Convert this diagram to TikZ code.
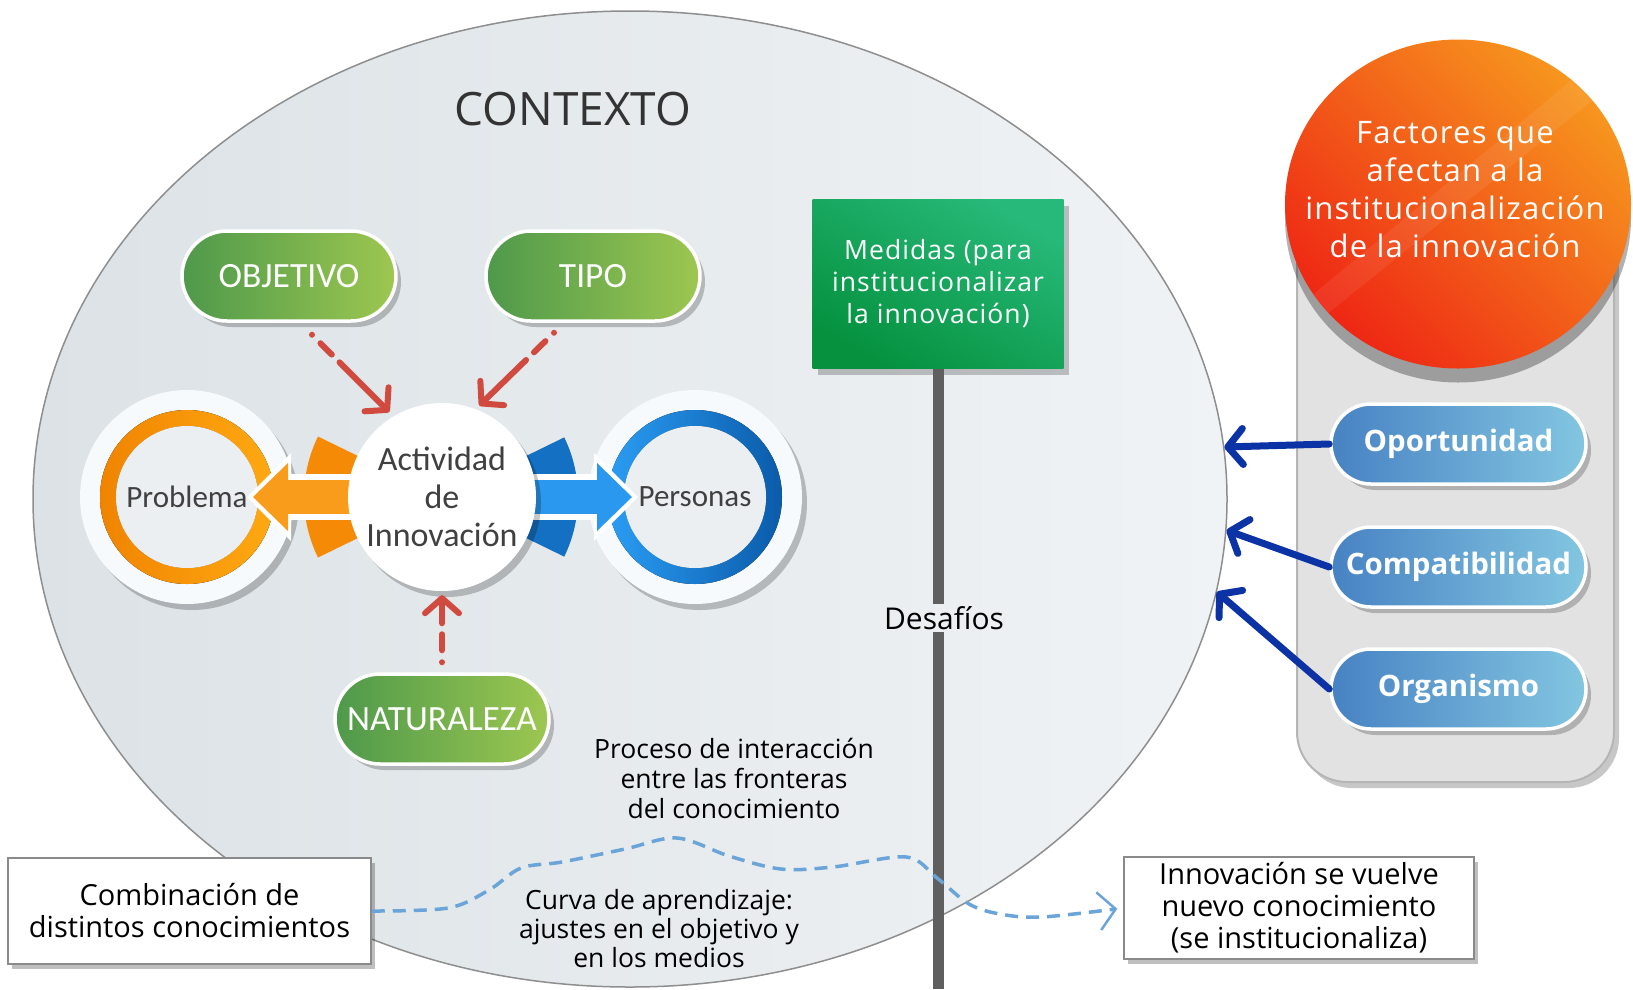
\documentclass[tikz,border=0pt]{standalone}
\usepackage{fontspec}
\setmainfont{Open Sans}
\newfontfamily\myr{Carlito}
\newfontfamily\osw[LetterSpace=4]{Open Sans}
\usetikzlibrary{shapes.geometric,shadows,arrows.meta,calc}
\definecolor{ellL}{HTML}{DCE2E6}
\definecolor{ellR}{HTML}{F0F3F5}
\definecolor{ellB}{HTML}{8E8E8E}
\definecolor{grL}{HTML}{4E994B}
\definecolor{grR}{HTML}{9DC750}
\definecolor{orA}{HTML}{F08400}
\definecolor{orB}{HTML}{FFA912}
\definecolor{orArr}{HTML}{F99B1B}
\definecolor{orArc}{HTML}{F48A06}
\definecolor{blA}{HTML}{2A9DF3}
\definecolor{blB}{HTML}{0B5BAA}
\definecolor{blArr}{HTML}{2A98EE}
\definecolor{blArc}{HTML}{1470C2}
\definecolor{redA}{HTML}{D04A3F}
\definecolor{navy}{HTML}{0B33A6}
\definecolor{pbL}{HTML}{4782C3}
\definecolor{pbR}{HTML}{83C6E1}
\definecolor{mgT}{HTML}{27B979}
\definecolor{mgB}{HTML}{05913E}
\definecolor{facT}{HTML}{F7961E}
\definecolor{facB}{HTML}{EE2714}
\definecolor{poleC}{HTML}{5F5F5F}
\definecolor{curveC}{HTML}{6AA4D8}
\definecolor{txg}{HTML}{404040}
\definecolor{txd}{HTML}{333333}
\definecolor{haloC}{HTML}{F7FAFC}
\definecolor{innerF}{HTML}{ECEFF2}
\definecolor{panelF}{HTML}{E2E2E2}
\definecolor{panelB}{HTML}{B5B5B5}
\definecolor{boxB}{HTML}{8A8A8A}
\begin{document}
\begin{tikzpicture}[x=1pt,y=-1pt,
  softshadow/.style={drop shadow={opacity=0.22, shadow xshift=5pt, shadow yshift=-6pt, fill=black}},
  gpill/.style={rounded corners=45pt, minimum width=214pt, minimum height=90pt, inner sep=0pt,
     left color=grL, right color=grR, draw=white, line width=3.5pt, text=white,
     font=\myr\fontsize{35.5}{38}\selectfont, softshadow},
  bpill/.style={rounded corners=40pt, minimum width=255pt, minimum height=80pt, inner sep=0pt,
     left color=pbL, right color=pbR, draw=white, line width=3.5pt, text=white,
     font=\bfseries\fontsize{29.5}{32}\selectfont, softshadow},
  halocirc/.style={circle, minimum size=214pt, inner sep=0pt, fill=haloC, softshadow},
  ringlabel/.style={circle, minimum size=142pt, inner sep=0pt, fill=innerF, text=txg,
     font=\myr\fontsize{31}{36}\selectfont},
  reddash/.style={draw=redA, line width=6pt, line cap=round,
     dash pattern=on 0pt off 12pt on 16pt off 11pt on 300pt,
     -{Straight Barb[length=15pt,width=34pt,line width=6pt,round]}},
  navyarr/.style={draw=navy, line width=7pt, line cap=round,
     -{Straight Barb[length=15pt,width=36pt,line width=7pt,round]}},
  tbox/.style={rectangle, draw=boxB, line width=1.5pt, fill=white, inner sep=0pt, align=center,
     font=\fontsize{29}{32}\selectfont,
     drop shadow={opacity=0.25, shadow xshift=4pt, shadow yshift=-5pt, fill=black}},
  polestyle/.style={draw=poleC, line width=11pt}
]
\useasboundingbox (0,0) rectangle (1633,989);

% context ellipse
\node[ellipse, minimum width=1194pt, minimum height=976pt, inner sep=0pt,
      left color=ellL, right color=ellR, draw=ellB, line width=1.5pt] (ctx) at (630,499) {};
\node[text=txd, font=\fontsize{46}{50}\selectfont] (ctxt) at (573,109) {CONTEXTO};

% right panel
\node[rectangle, rounded corners=50pt, minimum width=317pt, minimum height=580pt,
      fill=panelF, draw=panelB, line width=2pt, softshadow] (panel) at (1455.5,492) {};
\node[ellipse, minimum width=346pt, minimum height=329pt, inner sep=0pt,
      top color=facT, bottom color=facB, shading angle=-45,
      drop shadow={opacity=0.3, shadow xshift=0pt, shadow yshift=-14pt, fill=black}] (fac) at (1458,204) {};
\begin{scope}
  \clip (fac.center) ellipse [x radius=173pt, y radius=164.5pt];
  \fill[white, opacity=0.07] (1270,330) -- (1620,40) -- (1640,62) -- (1285,348) -- cycle;
\end{scope}
\node[text=white, align=center, font=\osw\fontsize{31}{38}\selectfont] (factxt) at (1455,190)
  {Factores que\\afectan a la\\institucionalización\\de la innovación};

\node[bpill] (opor) at (1458.5,444) {Oportunidad};
\node[bpill] (comp) at (1458.5,567) {Compatibilidad};
\node[bpill] (orgn) at (1458.5,689) {Organismo};

\draw[navyarr] (opor.west) -- (ctx.5);
\draw[navyarr] (comp.west) -- (ctx.-3);
\draw[navyarr] (orgn.west) -- (ctx.-9);

% green pills
\node[gpill] (obj) at (289,276) {OBJETIVO};
\node[gpill] (tipo) at (593,276) {TIPO};
\node[gpill] (nat) at (442,719) {NATURALEZA};

% rings
\coordinate (actc) at (442,497);
\node[halocirc] (probhalo) at (187,497) {};
\fill[even odd rule, left color=orA, right color=orB] (probhalo.center) circle[radius=87pt] circle[radius=71pt];
\node[ringlabel] (prob) at (probhalo.center) {Problema};

\node[halocirc] (pershalo) at (695,497) {};
\fill[even odd rule, left color=blA, right color=blB] (pershalo.center) circle[radius=87pt] circle[radius=71pt];
\node[ringlabel] (pers) at (pershalo.center) {Personas};

% arcs
\fill[orArc] (actc) -- ++(154:138pt) arc[start angle=154, end angle=206, radius=138pt] -- cycle;
\fill[blArc] (actc) -- ++(-26:136pt) arc[start angle=-26, end angle=26, radius=136pt] -- cycle;

% big arrows
\draw[white, line width=46pt, -{Triangle[length=44pt,width=88pt,line width=0pt]}, shorten >=60pt] (actc) -- (prob.center);
\draw[orArr, line width=34pt, -{Triangle[length=35pt,width=68pt,line width=0pt]}, shorten >=66pt] (actc) -- (prob.center);
\draw[white, line width=46pt, -{Triangle[length=44pt,width=88pt,line width=0pt]}, shorten >=57pt] (actc) -- (pers.center);
\draw[blArr, line width=34pt, -{Triangle[length=35pt,width=68pt,line width=0pt]}, shorten >=63pt] (actc) -- (pers.center);

% center circle
\node[circle, minimum size=188pt, inner sep=0pt, fill=white, softshadow, align=center, text=txg,
      font=\myr\fontsize{34}{38}\selectfont] (act) at (actc) {Actividad\\de\\Innovación};

% red dashed arrows
\draw[reddash, shorten >=6pt] ([shift={(23,12)}]obj.south) -- (act.121);
\draw[reddash, shorten >=5pt] ([shift={(-39,10)}]tipo.south) -- (act.69);
\draw[reddash, shorten >=4pt] ([shift={(0,-10)}]nat.north) -- (act.south);

% medidas and pole
\node[rectangle, minimum width=251pt, minimum height=169pt, inner sep=0pt,
      top color=mgT, bottom color=mgB, shading angle=-30, text=white, align=center,
      font=\osw\fontsize{26.5}{32}\selectfont, softshadow] (med) at (938,284)
      {Medidas (para\\institucionalizar\\la innovación)};
\node[font=\fontsize{30}{34}\selectfont, text=black, inner sep=2pt] (des) at (944,618) {Desafíos};
\coordinate (polebot) at (938,989);
\draw[polestyle] (med.south) -- (med.south |- des.north);
\draw[polestyle] (med.south |- des.south) -- (polebot);

% texts
\node[align=center, font=\fontsize{26.5}{30}\selectfont] (proc) at (734,778)
  {Proceso de interacción\\entre las fronteras\\del conocimiento};
\node[align=center, font=\fontsize{26.5}{29}\selectfont] (curv) at (659,929)
  {Curva de aprendizaje:\\ajustes en el objetivo y\\en los medios};

% boxes
\node[tbox, minimum width=363pt, minimum height=106pt] (comb) at (189.5,911)
  {Combinación de\\distintos conocimientos};
\node[tbox, minimum width=350pt, minimum height=102pt] (innv) at (1299,908)
  {Innovación se vuelve\\nuevo conocimiento\\(se institucionaliza)};

% learning curve
\draw[curveC, line width=3.5pt, dash pattern=on 13pt off 8pt,
      -{Straight Barb[length=17pt,width=38pt,line width=2.5pt]}, shorten >=6pt]
  plot[smooth, tension=0.55] coordinates {(comb.east) (448,908) (489,890) (521,868) (562,862)
    (625,849) (677,838) (729,856) (781,869) (833,867) (906,857) (937,878) (969,904)
    (1000,914) (1042,917) (innv.west)};
\end{tikzpicture}
\end{document}
